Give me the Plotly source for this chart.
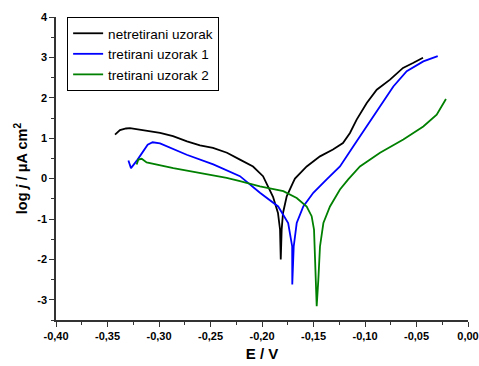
import plotly.graph_objects as go

# netretirani uzorak
e_black = [-0.3427, -0.3408, -0.3379, -0.3320, -0.3282, -0.2990, -0.2864, -0.2728, -0.2602, -0.2476,
           -0.2340, -0.2214, -0.2087, -0.1990, -0.1893, -0.1845, -0.1825, -0.1818, -0.1809, -0.1796,
           -0.1760, -0.1699, -0.1680, -0.1566, -0.1437, -0.1311, -0.1214, -0.1146, -0.1081, -0.0983,
           -0.0886, -0.0757, -0.0631, -0.0534, -0.0437]
j_black = [1.09, 1.14, 1.20, 1.24, 1.25, 1.13, 1.05, 0.92, 0.82, 0.76,
           0.64, 0.47, 0.30, 0.06, -0.45, -0.85, -1.26, -2.00, -1.26, -0.85,
           -0.44, -0.10, 0.00, 0.30, 0.55, 0.72, 0.88, 1.13, 1.46, 1.87,
           2.20, 2.45, 2.74, 2.86, 2.99]

# tretirani uzorak 1
e_blue = [-0.3297, -0.3272, -0.3208, -0.3110, -0.3062, -0.2990, -0.2731, -0.2473, -0.2214, -0.2020,
          -0.1843, -0.1746, -0.1707, -0.1706, -0.1692, -0.1663, -0.1599, -0.1502, -0.1372, -0.1243,
          -0.1113, -0.0983, -0.0854, -0.0725, -0.0595, -0.0434, -0.0294]
j_blue = [0.45, 0.26, 0.47, 0.84, 0.90, 0.87, 0.59, 0.35, 0.06, -0.35,
          -0.69, -1.10, -1.68, -2.62, -1.68, -1.10, -0.69, -0.35, -0.02, 0.30,
          0.80, 1.29, 1.79, 2.28, 2.66, 2.90, 3.03]

# tretirani uzorak 2
e_green = [-0.3217, -0.3201, -0.3168, -0.3120, -0.2861, -0.2602, -0.2343, -0.2214, -0.2020, -0.1793,
           -0.1663, -0.1566, -0.1518, -0.1495, -0.1476, -0.1469, -0.1453, -0.1437, -0.1404, -0.1340,
           -0.1243, -0.1163, -0.1049, -0.0854, -0.0628, -0.0434, -0.0304, -0.0214]
j_green = [0.35, 0.47, 0.49, 0.40, 0.26, 0.14, 0.02, -0.06, -0.19, -0.31,
           -0.48, -0.69, -0.93, -1.26, -2.50, -3.16, -2.50, -1.68, -1.10, -0.69,
           -0.27, -0.02, 0.30, 0.64, 0.97, 1.29, 1.58, 1.97]

series_names = ["netretirani uzorak", "tretirani uzorak 1", "tretirani uzorak 2"]

x_tickvals = [-0.40, -0.35, -0.30, -0.25, -0.20, -0.15, -0.10, -0.05, 0.00]
x_ticktext = ["-0,40", "-0,35", "-0,30", "-0,25", "-0,20", "-0,15", "-0,10", "-0,05", "0,00"]
y_tickvals = [-3, -2, -1, 0, 1, 2, 3, 4]
y_ticktext = ["-3", "-2", "-1", "0", "1", "2", "3", "4"]

fig = go.Figure()
for xs, ys, name, col in [(e_black, j_black, series_names[0], "#000000"),
                          (e_blue, j_blue, series_names[1], "#0000FF"),
                          (e_green, j_green, series_names[2], "#008000")]:
    fig.add_trace(go.Scatter(x=xs, y=ys, mode="lines", name=name,
                             line=dict(color=col, width=1.8)))

axis_common = dict(showline=True, linecolor="#333333", linewidth=1.5, ticks="outside",
                   ticklen=5, tickwidth=1.2, tickcolor="#333333", showgrid=False, zeroline=False,
                   tickfont=dict(family="Liberation Sans, Arial", size=11, color="#000000",
                                 weight="bold"),
                   mirror=False, automargin=False)

fig.update_layout(
    width=479, height=366,
    margin=dict(l=56, r=11, t=17, b=46),
    paper_bgcolor="white", plot_bgcolor="white",
    font=dict(family="Liberation Sans, Arial", color="#000000"),
    showlegend=True,
    legend=dict(x=0.027, y=1.0, xanchor="left", yanchor="top",
                bordercolor="#000000", borderwidth=1, bgcolor="white",
                font=dict(size=13.5, family="Liberation Sans, Arial"),
                tracegroupgap=0, itemwidth=30),
    xaxis=dict(range=[-0.40, 0.0], tickvals=x_tickvals, ticktext=x_ticktext,
               minor=dict(ticks="outside", ticklen=3, tickcolor="#333333",
                          tickvals=[-0.375, -0.325, -0.275, -0.225, -0.175, -0.125, -0.075, -0.025]),
               title=dict(text="<b>E / V</b>", font=dict(size=15), standoff=8),
               **axis_common),
    yaxis=dict(range=[-3.5, 4.0], tickvals=y_tickvals, ticktext=y_ticktext,
               minor=dict(ticks="outside", ticklen=3, tickcolor="#333333",
                          tickvals=[-3.5, -2.5, -1.5, -0.5, 0.5, 1.5, 2.5, 3.5]),
               title=dict(text="<b>log <i>j</i> / μA cm<sup>2</sup></b>", font=dict(size=14.5), standoff=6),
               **axis_common),
)
fig.write_html("out.html", config={"displayModeBar": False},
               post_script="document.body.style.margin='0';")
